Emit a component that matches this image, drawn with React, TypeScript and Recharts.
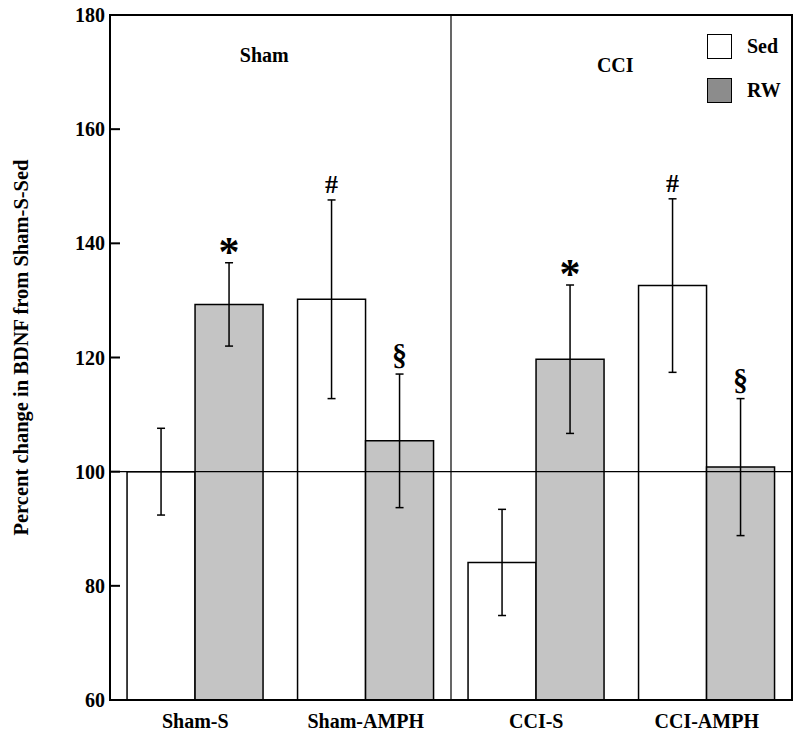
import { Bar, BarChart, ErrorBar, Label, LabelList, Legend, ReferenceArea, ReferenceDot, ReferenceLine, XAxis, YAxis } from "recharts";

const groups = ["Sham-S", "Sham-AMPH", "CCI-S", "CCI-AMPH"];
const sedValues = [100, 130.2, 84.1, 132.6];
const sedErrors = [7.6, 17.4, 9.3, 15.2];
const rwValues = [129.3, 105.4, 119.7, 100.8];
const rwErrors = [7.3, 11.7, 13.0, 12.0];
const sedMarks = ["", "#", "", "#"];
const rwMarks = ["*", "§", "*", "§"];
const yTicks = [60, 80, 100, 120, 140, 160, 180];
const seriesNames = ["Sed", "RW"];
const legendColors = ["#ffffff", "#8c8c8c"];

const data = groups.map((name, i) => ({
  name,
  sed: sedValues[i],
  sedErr: sedErrors[i],
  sedMark: sedMarks[i],
  rw: rwValues[i],
  rwErr: rwErrors[i],
  rwMark: rwMarks[i],
}));

const font = "'Liberation Serif', 'Times New Roman', serif";
const Y_MIN = 60;

// size and vertical offset (from top of error bar) for each significance mark
const markStyle: Record<string, { size: number; dy: number }> = {
  "*": { size: 42, dy: 3 },
  "#": { size: 26, dy: -7 },
  "§": { size: 30, dy: -9 },
};

const makeMark = (values: number[], errors: number[]) => (props: any) => {
  const { x, y, width, height, index, value } = props;
  if (!value) return null;
  const pxPerUnit = Number(height) / (values[index] - Y_MIN);
  const top = Number(y) - errors[index] * pxPerUnit;
  const s = markStyle[value];
  return (
    <text
      x={Number(x) + Number(width) / 2}
      y={top + s.dy}
      textAnchor="middle"
      fontFamily={font}
      fontWeight="bold"
      fontSize={s.size}
      fill="#000"
    >
      {value}
    </text>
  );
};

const renderLegend = () => (
  <div style={{ fontFamily: font, fontWeight: "bold", fontSize: 20 }}>
    {seriesNames.map((n, i) => (
      <div key={n} style={{ display: "flex", alignItems: "center", height: 26, marginBottom: 18 }}>
        <span
          style={{
            display: "inline-block",
            width: 23,
            height: 23,
            border: "1.5px solid #000",
            background: legendColors[i],
            marginRight: 15,
          }}
        />
        <span>{n}</span>
      </div>
    ))}
  </div>
);

const sectionLabel = (value: string, dx: number) => ({
  value,
  position: "center" as const,
  dx,
  fill: "#000",
  fontFamily: font,
  fontWeight: "bold",
  fontSize: 20,
});

export default function App() {
  return (
    <div style={{ position: "absolute", left: 0, top: 0, width: 800, height: 738, background: "#fff" }}>
      <BarChart
        width={800}
        height={738}
        data={data}
        margin={{ top: 15, right: 8, left: 0, bottom: 0 }}
        barGap={0}
        barCategoryGap="10%"
      >
        <XAxis
          dataKey="name"
          height={38}
          tickLine={false}
          tickSize={0}
          tickMargin={14}
          axisLine={{ stroke: "#000", strokeWidth: 2 }}
          tick={{ fill: "#000", fontFamily: font, fontWeight: "bold", fontSize: 20 }}
        />
        <YAxis
          domain={[60, 180]}
          ticks={yTicks}
          width={110}
          tickSize={-10}
          tickMargin={15}
          axisLine={{ stroke: "#000", strokeWidth: 2 }}
          tickLine={{ stroke: "#000", strokeWidth: 2 }}
          tick={{ fill: "#000", fontFamily: font, fontWeight: "bold", fontSize: 20 }}
        >
          <Label
            content={(p: any) => {
              const vb = p.viewBox;
              const cx = 28;
              const cy = vb.y + vb.height / 2 - 10;
              return (
                <text
                  x={cx}
                  y={cy}
                  transform={`rotate(-90 ${cx} ${cy})`}
                  textAnchor="middle"
                  fontFamily={font}
                  fontWeight="bold"
                  fontSize={20.5}
                  fill="#000"
                >
                  Percent change in BDNF from Sham-S-Sed
                </text>
              );
            }}
          />
        </YAxis>
        <Legend
          layout="horizontal"
          verticalAlign="middle"
          align="center"
          content={renderLegend}
          wrapperStyle={{ position: "absolute", top: 33, left: 707, width: "auto" }}
        />
        <Bar dataKey="sed" name="Sed" fill="#ffffff" stroke="#000" strokeWidth={1.5} isAnimationActive={false}>
          <ErrorBar dataKey="sedErr" width={4} stroke="#000" strokeWidth={1.5} direction="y" />
          <LabelList dataKey="sedMark" content={makeMark(sedValues, sedErrors)} />
        </Bar>
        <Bar dataKey="rw" name="RW" fill="#c4c4c4" stroke="#000" strokeWidth={1.5} isAnimationActive={false}>
          <ErrorBar dataKey="rwErr" width={4} stroke="#000" strokeWidth={1.5} direction="y" />
          <LabelList dataKey="rwMark" content={makeMark(rwValues, rwErrors)} />
        </Bar>
        <ReferenceLine y={100} stroke="#000" strokeWidth={1.2} />
        <ReferenceLine x="CCI-S" position="start" stroke="#000" strokeWidth={1.2} />
        <ReferenceArea
          x1="Sham-S"
          x2="CCI-AMPH"
          y1={60}
          y2={180}
          fill="none"
          fillOpacity={0}
          stroke="#000"
          strokeWidth={2}
        />
        <ReferenceDot x="Sham-S" y={173} r={0} fill="none" stroke="none" label={sectionLabel("Sham", 69)} />
        <ReferenceDot x="CCI-S" y={171.3} r={0} fill="none" stroke="none" label={sectionLabel("CCI", 79)} />
      </BarChart>
    </div>
  );
}
